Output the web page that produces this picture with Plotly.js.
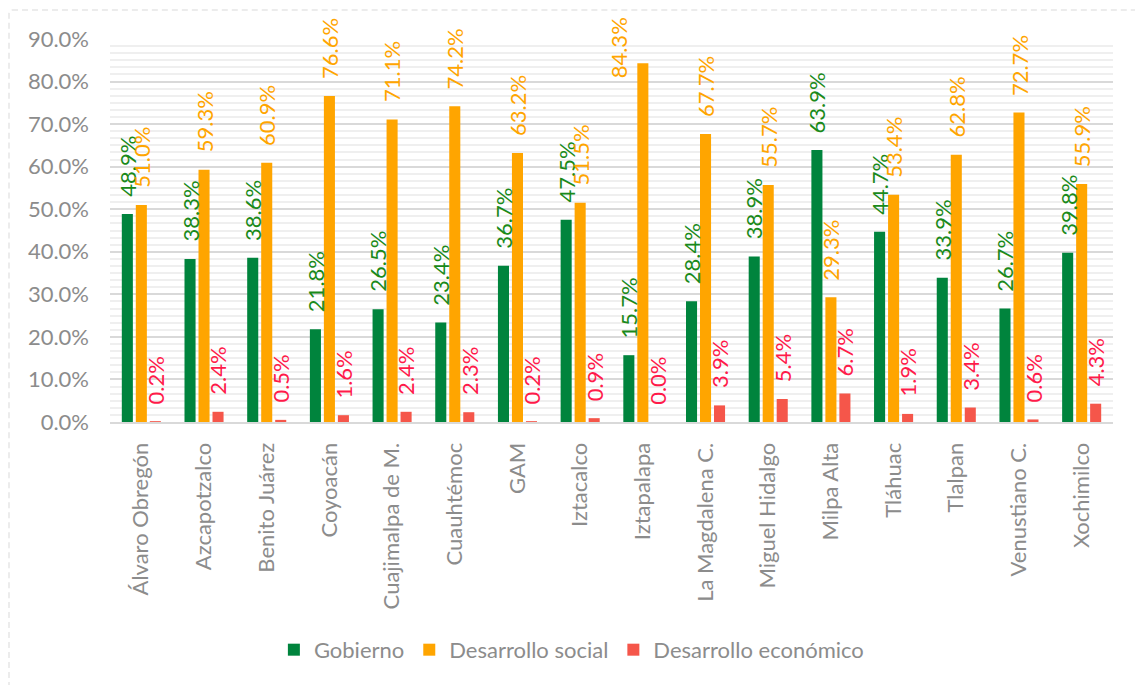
<!DOCTYPE html>
<html>
<head>
<meta charset="utf-8">
<script src="https://cdn.plot.ly/plotly-3.0.1.min.js"></script>
<style>
  html, body { margin: 0; padding: 0; background: #fff; }
  #wrap { position: relative; width: 1135px; height: 685px; overflow: hidden; }
  #chart { width: 1135px; height: 685px; }
  #frame { position: absolute; left: 8px; top: 9px; width: 1140px; height: 700px;
           border: 2px dashed #ececec; border-radius: 4px; pointer-events: none; box-sizing: border-box; }
</style>
</head>
<body>
<div id="wrap">
  <div id="chart"></div>
  <div id="frame"></div>
</div>
<script>
const categories = ["Álvaro Obregón", "Azcapotzalco", "Benito Juárez", "Coyoacán", "Cuajimalpa de M.",
  "Cuauhtémoc", "GAM", "Iztacalco", "Iztapalapa", "La Magdalena C.", "Miguel Hidalgo",
  "Milpa Alta", "Tláhuac", "Tlalpan", "Venustiano C.", "Xochimilco"];
const gobierno = [48.9, 38.3, 38.6, 21.8, 26.5, 23.4, 36.7, 47.5, 15.7, 28.4, 38.9, 63.9, 44.7, 33.9, 26.7, 39.8];
const desarrolloSocial = [51.0, 59.3, 60.9, 76.6, 71.1, 74.2, 63.2, 51.5, 84.3, 67.7, 55.7, 29.3, 53.4, 62.8, 72.7, 55.9];
const desarrolloEconomico = [0.2, 2.4, 0.5, 1.6, 2.4, 2.3, 0.2, 0.9, 0.0, 3.9, 5.4, 6.7, 1.9, 3.4, 0.6, 4.3];
const seriesNames = ["Gobierno", "Desarrollo social", "Desarrollo económico"];

const barColors = ["#00843D", "#FFA500", "#F5564A"];
const labelColors = ["#1A8A1A", "#FFA500", "#FF1A4A"];
const FONT = "Lato, 'Open Sans', sans-serif";
const GRAY = "#8c8c8c";
const FS = 22;

const M = { l: 110, r: 22, t: 39, b: 263 };
const H = 685, W = 1135;
const YMAX = 0.9;
const plotH = H - M.t - M.b;

const allSeries = [gobierno, desarrolloSocial, desarrolloEconomico];
const traces = allSeries.map((vals, i) => ({
  type: "bar",
  name: seriesNames[i],
  x: categories,
  y: vals.map(v => v / 100),
  marker: { color: barColors[i] },
  hoverinfo: "none"
}));

// label placement: above bar, but kept inside the chart frame (like the original,
// where a label that would leave the frame is pushed down and beside its bar)
const annotations = [];
const offsets = [-14, 0, 14];
const GAP = 15, LABEL_LEN = 60, TOP_LIMIT = 20, SIDE_SHIFT = -24;
allSeries.forEach((vals, i) => {
  vals.forEach((v, j) => {
    const barTopPx = M.t + plotH * (1 - (v / 100) / YMAX);
    let shift = GAP, xs = offsets[i];
    const labelTop = barTopPx - GAP - LABEL_LEN;
    if (labelTop < TOP_LIMIT) { shift = GAP - (TOP_LIMIT - labelTop); xs += SIDE_SHIFT; }
    annotations.push({
      x: categories[j], y: v / 100, xref: "x", yref: "y",
      text: v.toFixed(1) + "%",
      showarrow: false, textangle: -90,
      xanchor: "center", yanchor: "bottom",
      xshift: xs, yshift: shift,
      font: { family: FONT, size: FS, color: labelColors[i] }
    });
  });
});

const layout = {
  width: W, height: H,
  margin: M,
  paper_bgcolor: "#ffffff",
  plot_bgcolor: "#ffffff",
  barmode: "group",
  bargap: 0.33,
  bargroupgap: 0.21,
  showlegend: true,
  legend: {
    orientation: "h", x: 0.46, xanchor: "center",
    y: -0.595, yanchor: "middle",
    font: { family: FONT, size: FS, color: GRAY },
    itemclick: false, itemwidth: 30
  },
  xaxis: {
    type: "category",
    tickangle: -90,
    tickfont: { family: FONT, size: FS, color: GRAY },
    showgrid: false,
    showline: true, linecolor: "#d9d9d9", linewidth: 2,
    ticks: "", ticklabelstandoff: 10, automargin: false
  },
  yaxis: {
    range: [0, YMAX],
    dtick: 0.1, tick0: 0,
    tickformat: ".1%",
    tickfont: { family: FONT, size: FS, color: GRAY },
    showgrid: true, gridcolor: "#d9d9d9", gridwidth: 2,
    zeroline: false, showline: false,
    ticks: "", ticklabelstandoff: 20, automargin: false,
    minor: { dtick: 0.1 / 6, tick0: 0, showgrid: true, gridcolor: "#efefef", gridwidth: 2, ticks: "" }
  },
  annotations: annotations,
  font: { family: FONT }
};

Plotly.newPlot("chart", traces, layout, { displayModeBar: false, staticPlot: true });
</script>
</body>
</html>
